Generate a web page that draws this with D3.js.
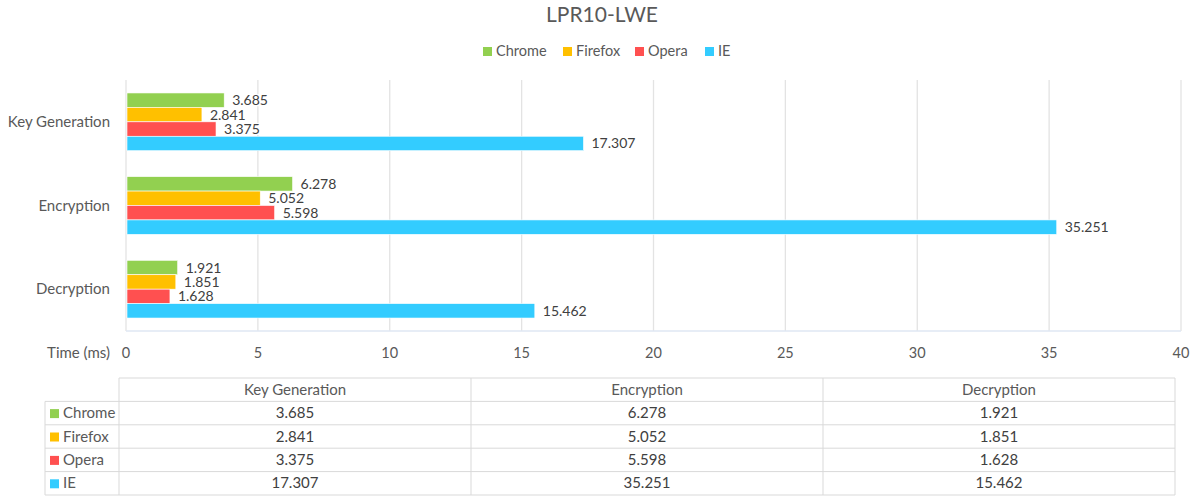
<!DOCTYPE html>
<html>
<head>
<meta charset="utf-8">
<script src="https://cdn.jsdelivr.net/npm/d3@7"></script>
<style>
  body { margin: 0; background: #fff; }
  text { font-family: Lato, "Open Sans", sans-serif; }
</style>
</head>
<body>
<div id="chart"></div>
<script>
// data
const categories = ["Key Generation", "Encryption", "Decryption"];
const browsers = ["Chrome", "Firefox", "Opera", "IE"];
const colors = ["#92d050", "#ffc000", "#ff5050", "#33ccff"];
const chromeVals = [3.685, 6.278, 1.921];
const firefoxVals = [2.841, 5.052, 1.851];
const operaVals = [3.375, 5.598, 1.628];
const ieVals = [17.307, 35.251, 15.462];
const xTicks = [0, 5, 10, 15, 20, 25, 30, 35, 40];

const series = [chromeVals, firefoxVals, operaVals, ieVals];
const rows = browsers.map((b, i) => ({ name: b, color: colors[i], values: series[i] }));

const W = 1197, H = 497;
const svg = d3.select("#chart").append("svg")
    .attr("width", W).attr("height", H);

// title
svg.append("text")
    .attr("x", 602).attr("y", 22)
    .attr("text-anchor", "middle")
    .style("font-size", "21px").style("fill", "#595959")
    .text("LPR10-LWE");

// legend
const legendX = [483, 563, 635, 705];
const legend = svg.append("g");
rows.forEach((r, i) => {
    legend.append("rect")
        .attr("x", legendX[i]).attr("y", 47)
        .attr("width", 9).attr("height", 9)
        .attr("fill", r.color);
    legend.append("text")
        .attr("x", legendX[i] + 13).attr("y", 56)
        .style("font-size", "14.5px").style("fill", "#595959")
        .text(r.name);
});

// scales
const x = d3.scaleLinear().domain([0, 40]).range([126, 1181]);
const y0 = d3.scaleBand().domain(categories).range([80, 331])
    .paddingInner(0.31).paddingOuter(0.155);
const y1 = d3.scaleBand().domain(browsers).range([0, y0.bandwidth()]);

// grid
svg.append("g").selectAll("line")
    .data(xTicks)
    .join("line")
    .attr("x1", d => x(d)).attr("x2", d => x(d))
    .attr("y1", 80).attr("y2", 331)
    .attr("stroke", "#e3e3e3").attr("stroke-width", 1.3);

svg.append("line")
    .attr("x1", x(0)).attr("x2", x(40))
    .attr("y1", 331).attr("y2", 331)
    .attr("stroke", "#dfe7f3").attr("stroke-width", 1.5);

// category labels
svg.append("g").selectAll("text")
    .data(categories)
    .join("text")
    .attr("x", 110)
    .attr("y", d => y0(d) + y0.bandwidth() / 2 + 5)
    .attr("text-anchor", "end")
    .style("font-size", "15px").style("fill", "#595959")
    .text(d => d);

// bars
const groups = svg.append("g").selectAll("g")
    .data(rows)
    .join("g");

groups.selectAll("rect")
    .data(r => r.values.map((v, j) => ({ b: r.name, c: categories[j], v: v, color: r.color })))
    .join("rect")
    .attr("x", x(0) + 1)
    .attr("y", d => y0(d.c) + y1(d.b))
    .attr("width", d => x(d.v) - x(0))
    .attr("height", y1.bandwidth())
    .attr("fill", d => d.color)
    .attr("stroke", "#fff").attr("stroke-width", 0.6);

// value labels with white background
const labels = svg.append("g");
rows.forEach(r => {
    r.values.forEach((v, j) => {
        const lx = x(v) + 7;
        const ly = y0(categories[j]) + y1(r.name) + y1.bandwidth() / 2;
        const t = labels.append("text")
            .attr("x", lx + 2).attr("y", ly + 5)
            .style("font-size", "14px").style("fill", "#404040")
            .text(d3.format(".3f")(v));
        const bb = t.node().getBBox();
        labels.insert("rect", "text")
            .attr("x", lx).attr("y", ly - 6)
            .attr("width", bb.width + 4).attr("height", 12)
            .attr("fill", "#fff");
    });
});

// x axis tick labels
svg.append("g").selectAll("text")
    .data(xTicks)
    .join("text")
    .attr("x", d => x(d))
    .attr("y", 358)
    .attr("text-anchor", "middle")
    .style("font-size", "14.5px").style("fill", "#595959")
    .text(d => d);

svg.append("text")
    .attr("x", 110).attr("y", 358)
    .attr("text-anchor", "end")
    .style("font-size", "15px").style("fill", "#595959")
    .text("Time (ms)");

// data table
const tx = d3.scaleBand().domain(categories).range([119, 1175]);
const ty = d3.scaleBand().domain(["head"].concat(browsers)).range([378, 495]);
const table = svg.append("g");
const lineColor = "#d9d9d9";

// horizontal lines
table.append("line").attr("x1", 119).attr("x2", 1175)
    .attr("y1", ty("head")).attr("y2", ty("head")).attr("stroke", lineColor);
browsers.forEach(b => {
    table.append("line").attr("x1", 45).attr("x2", 1175)
        .attr("y1", ty(b)).attr("y2", ty(b)).attr("stroke", lineColor);
});
table.append("line").attr("x1", 45).attr("x2", 1175)
    .attr("y1", 495).attr("y2", 495).attr("stroke", lineColor);
// vertical lines
table.append("line").attr("x1", 45).attr("x2", 45)
    .attr("y1", ty(browsers[0])).attr("y2", 495).attr("stroke", lineColor);
categories.forEach(c => {
    table.append("line").attr("x1", tx(c)).attr("x2", tx(c))
        .attr("y1", ty("head")).attr("y2", 495).attr("stroke", lineColor);
});
table.append("line").attr("x1", 1175).attr("x2", 1175)
    .attr("y1", ty("head")).attr("y2", 495).attr("stroke", lineColor);

// header text
table.selectAll("text.head")
    .data(categories)
    .join("text")
    .attr("class", "head")
    .attr("x", d => tx(d) + tx.bandwidth() / 2)
    .attr("y", ty("head") + ty.bandwidth() / 2 + 5)
    .attr("text-anchor", "middle")
    .style("font-size", "15px").style("fill", "#595959")
    .text(d => d);

rows.forEach(r => {
    const cy = ty(r.name) + ty.bandwidth() / 2;
    table.append("rect")
        .attr("x", 50).attr("y", cy - 4)
        .attr("width", 9).attr("height", 9)
        .attr("fill", r.color);
    table.append("text")
        .attr("x", 63).attr("y", cy + 5)
        .style("font-size", "15px").style("fill", "#595959")
        .text(r.name);
    r.values.forEach((v, j) => {
        table.append("text")
            .attr("x", tx(categories[j]) + tx.bandwidth() / 2)
            .attr("y", cy + 5)
            .attr("text-anchor", "middle")
            .style("font-size", "15px").style("fill", "#404040")
            .text(d3.format(".3f")(v));
    });
});
</script>
</body>
</html>
